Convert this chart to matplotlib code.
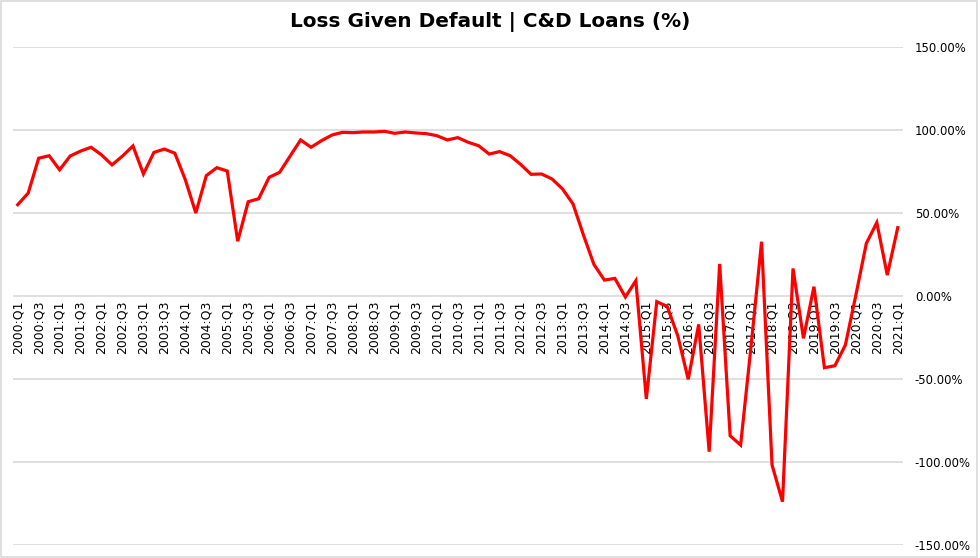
import matplotlib
matplotlib.use("Agg")
import matplotlib.pyplot as plt
from matplotlib.patches import Rectangle

quarters = [f"{y}:Q{q}" for y in range(2000, 2021) for q in (1, 2, 3, 4)] + ["2021:Q1"]

lgd = [
    55, 62, 83, 84.5, 76, 84.3, 87.3, 89.6, 85, 79, 84.3, 90.4,
    73.5, 86.5, 88.5, 86, 70, 50, 72.5, 77.3, 75.3, 33, 56.8, 58.6,
    71.5, 74.5, 84.3, 94, 89.6, 93.6, 97, 98.6, 98.4, 98.8, 98.8, 99.2,
    98, 98.8, 98.2, 97.8, 96.6, 94, 95.4, 92.6, 90.5, 85.5, 87, 84.5,
    79.3, 73.3, 73.5, 70.5, 64.5, 55.5, 36.7, 19, 9.6, 10.6, -0.6, 9.2,
    -62, -3.4, -6.4, -23.9, -50.2, -17.1, -93.8, 19.3, -84.2, -89.8, -30, 32.7,
    -101.8, -123.9, 16.6, -25.5, 5.6, -43.2, -42, -29.5, 0.5, 31.7, 44.2, 12.6,
    41.2,
]

yticks = [150, 100, 50, 0, -50, -100, -150]
ytick_labels = [f"{v:.2f}%" for v in yticks]
title = "Loss Given Default | C&D Loans (%)"

plt.rcParams['font.family'] = ['DejaVu Sans']

fig = plt.figure(figsize=(9.8, 5.58), dpi=100)
ax = fig.add_axes([13/980, 1-545/558, 890/980, 498/558])

x = list(range(len(lgd)))
ax.plot(x, lgd, color='#ff0000', linewidth=2.3, solid_joinstyle='miter', zorder=5)

ax.set_xlim(-0.45, len(lgd) - 0.5)
ax.set_ylim(-150, 150)
ax.set_yticks(yticks)
ax.set_yticklabels(ytick_labels, fontsize=8.4, color='#000000', ha='left')
ax.yaxis.tick_right()
ax.tick_params(axis='y', length=0, pad=8.5)
ax.grid(axis='y', color='#d9d9d9', linewidth=1.2, zorder=0)
ax.set_xticks([])
for s in ax.spines.values():
    s.set_visible(False)

# category labels hanging below the 0% line
for i in range(0, len(lgd), 2):
    ax.annotate(quarters[i], xy=(i, 0), xytext=(0, -3.5), textcoords='offset points',
                rotation=90, ha='center', va='top', fontsize=8.9, color='#000000',
                zorder=2)

fig.text(490/980, 1-22/558, title, ha='center', va='center', fontsize=14.4,
         fontweight='bold', color='#000000')

fig.patches.append(Rectangle((0.001, 0.002), 0.996, 0.996, transform=fig.transFigure,
                             fill=False, edgecolor='#d9d9d9', linewidth=1.2))

fig.savefig('out.png', dpi=100, facecolor='white')
